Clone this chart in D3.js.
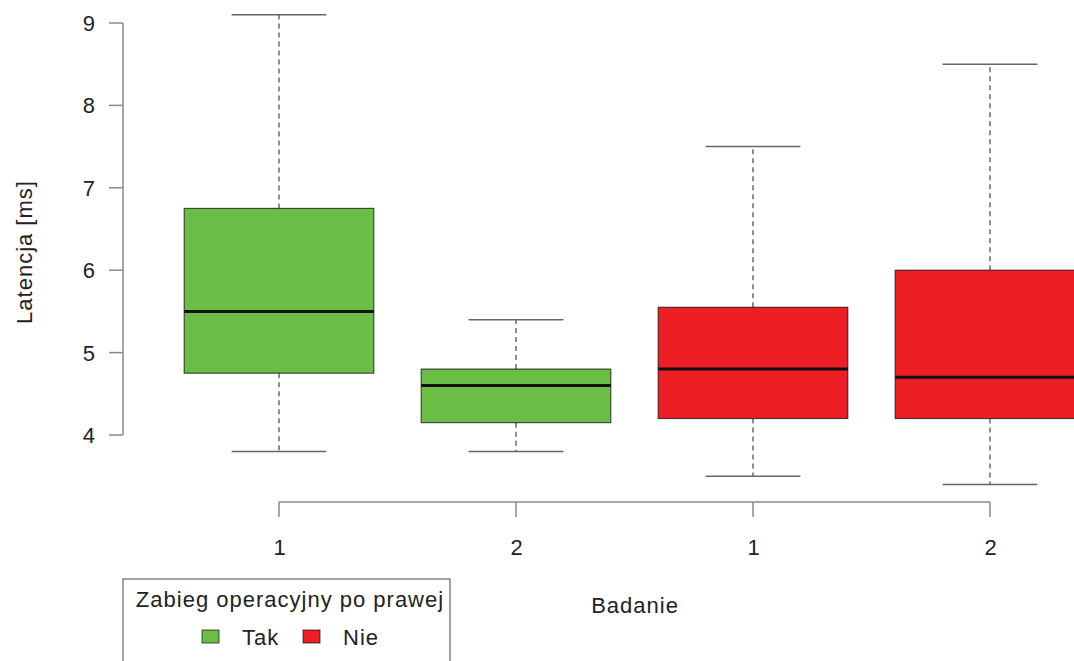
<!DOCTYPE html>
<html><head><meta charset="utf-8">
<script src="https://cdn.jsdelivr.net/npm/d3@7"></script>
<style>body{margin:0;background:#fff}svg{display:block;font-family:"Liberation Sans",Arial,sans-serif}text{letter-spacing:1px}</style>
</head><body>
<svg id="c" width="1074" height="661"></svg>
<script>
const categories = ["1","2","1","2"];
const groups = ["Tak","Tak","Nie","Nie"];
const whiskerLow = [3.8, 3.8, 3.5, 3.4];
const q1 = [4.75, 4.15, 4.2, 4.2];
const medians = [5.5, 4.6, 4.8, 4.7];
const q3 = [6.75, 4.8, 5.55, 6.0];
const whiskerHigh = [9.1, 5.4, 7.5, 8.5];
const yTicks = [4,5,6,7,8,9];
const legendLabels = ["Tak","Nie"];
const colors = {Tak:"#6abd45", Nie:"#ed1f24"};

const FS = 22;
const svg = d3.select("#c");
const y = d3.scaleLinear().domain([4,9]).range([435,23]);
const x = d3.scaleLinear().domain([0,3]).range([279,990]);
const step = x(1)-x(0);
const bw = step*0.8;

// y axis
const ya = svg.append("g");
ya.append("line").attr("x1",123).attr("x2",123).attr("y1",y(4)).attr("y2",y(9)).attr("stroke","#888").attr("stroke-width",1.5);
yTicks.forEach(t=>{
  ya.append("line").attr("x1",109).attr("x2",123).attr("y1",y(t)).attr("y2",y(t)).attr("stroke","#888").attr("stroke-width",1.5);
  ya.append("text").attr("x",96).attr("y",y(t)+8).attr("text-anchor","end").attr("font-size",FS).attr("fill","#222").text(t);
});
svg.append("text").attr("transform","translate(32,252) rotate(-90)").attr("text-anchor","middle").attr("font-size",FS).attr("fill","#222").text("Latencja [ms]");

// x axis
const xa = svg.append("g");
xa.append("line").attr("x1",x(0)).attr("x2",x(3)).attr("y1",502).attr("y2",502).attr("stroke","#888").attr("stroke-width",1.5);
categories.forEach((c,i)=>{
  xa.append("line").attr("x1",x(i)).attr("x2",x(i)).attr("y1",502).attr("y2",517).attr("stroke","#888").attr("stroke-width",1.5);
  xa.append("text").attr("x",x(i)+1).attr("y",555).attr("text-anchor","middle").attr("font-size",FS).attr("fill","#222").text(c);
});
svg.append("text").attr("x",635).attr("y",613).attr("text-anchor","middle").attr("font-size",FS).attr("fill","#222").text("Badanie");

// boxes
categories.forEach((c,i)=>{
  const cx = x(i), g = svg.append("g");
  g.append("line").attr("x1",cx).attr("x2",cx).attr("y1",y(q3[i])).attr("y2",y(whiskerHigh[i])).attr("stroke","#444").attr("stroke-width",1.2).attr("stroke-dasharray","5,4");
  g.append("line").attr("x1",cx).attr("x2",cx).attr("y1",y(q1[i])).attr("y2",y(whiskerLow[i])).attr("stroke","#444").attr("stroke-width",1.2).attr("stroke-dasharray","5,4");
  [whiskerHigh[i],whiskerLow[i]].forEach(v=>{
    g.append("line").attr("x1",cx-bw/4).attr("x2",cx+bw/4).attr("y1",y(v)).attr("y2",y(v)).attr("stroke","#666").attr("stroke-width",1.5);
  });
  g.append("rect").attr("x",cx-bw/2).attr("y",y(q3[i])).attr("width",bw).attr("height",y(q1[i])-y(q3[i]))
    .attr("fill",colors[groups[i]]).attr("stroke","rgba(0,0,0,0.65)").attr("stroke-width",1.2);
  g.append("line").attr("x1",cx-bw/2).attr("x2",cx+bw/2).attr("y1",y(medians[i])).attr("y2",y(medians[i])).attr("stroke","#111").attr("stroke-width",3);
});

// legend
const lg = svg.append("g");
lg.append("rect").attr("x",123).attr("y",579).attr("width",327).attr("height",120).attr("fill","#fff").attr("stroke","#666").attr("stroke-width",1.2);
lg.append("text").attr("x",290).attr("y",607).attr("text-anchor","middle").attr("font-size",FS).attr("fill","#222").text("Zabieg operacyjny po prawej");
const lx = [202, 303];
legendLabels.forEach((l,i)=>{
  lg.append("rect").attr("x",lx[i]).attr("y",630).attr("width",17).attr("height",13).attr("fill",colors[l]).attr("stroke","rgba(0,0,0,0.65)").attr("stroke-width",1);
  lg.append("text").attr("x",lx[i]+40).attr("y",645).attr("font-size",FS).attr("fill","#222").text(l);
});
</script>
</body></html>
